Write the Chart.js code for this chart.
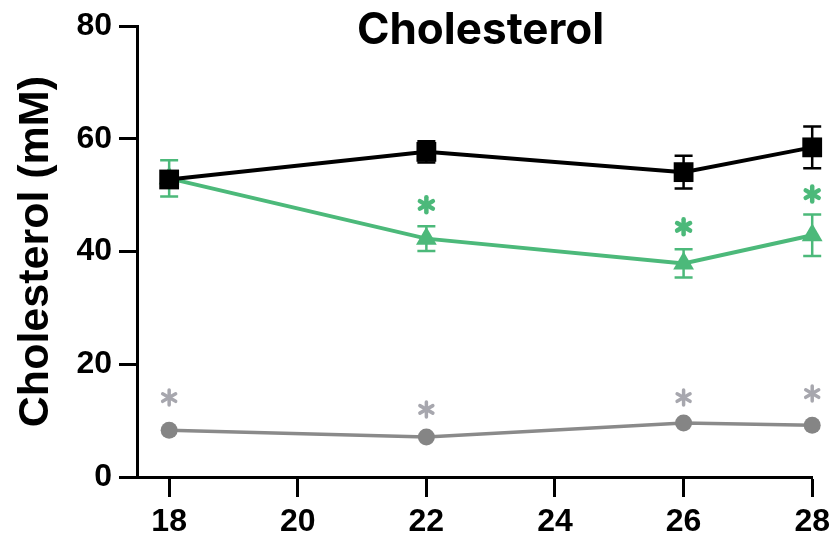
<!DOCTYPE html>
<html>
<head>
<meta charset="utf-8">
<script src="https://cdn.jsdelivr.net/npm/chart.js@4.4.0/dist/chart.umd.min.js"></script>
<style>
  html, body { margin: 0; padding: 0; background: #fff; }
  #chart { display: block; }
</style>
</head>
<body>
<canvas id="chart" width="836" height="540"></canvas>
<script>
// data
const chartTitle = "Cholesterol";
const yTitle = "Cholesterol (mM)";
const xTicks = [18, 20, 22, 24, 26, 28];
const days = [18, 22, 26, 28];

const blackValues = [52.8, 57.7, 54.1, 58.5];
const blackErr = [1.4, 1.9, 2.9, 3.7];

const greenValues = [53.0, 42.3, 37.9, 42.9];
const greenErr = [3.2, 2.2, 2.5, 3.7];
const greenStars = [null, 48.3, 44.4, 50.2];

const grayValues = [8.3, 7.1, 9.6, 9.2];
const grayErr = [0, 0, 0, 0];
const grayStars = [14.1, 12.0, 14.1, 14.8];

const black = "#000000";
const green = "#4cb97a";
const gray = "#8a8a8a";
const grayStar = "#a7a7ae";

const toPoints = (vals) => vals.map((v, i) => ({ x: days[i], y: v }));

// error bars, drawn under the markers
const errorBarPlugin = {
  id: "errorBars",
  beforeDatasetsDraw(chart) {
    const ctx = chart.ctx;
    const xScale = chart.scales.x;
    const yScale = chart.scales.y;
    chart.data.datasets.forEach((ds) => {
      if (!ds.errors) return;
      ctx.save();
      ctx.strokeStyle = ds.borderColor;
      ctx.lineWidth = 2.5;
      ds.data.forEach((p, i) => {
        const e = ds.errors[i];
        if (!e) return;
        const x = xScale.getPixelForValue(p.x);
        const top = yScale.getPixelForValue(p.y + e);
        const bot = yScale.getPixelForValue(p.y - e);
        ctx.beginPath();
        ctx.moveTo(x, top);
        ctx.lineTo(x, bot);
        ctx.moveTo(x - 9, top);
        ctx.lineTo(x + 9, top);
        ctx.moveTo(x - 9, bot);
        ctx.lineTo(x + 9, bot);
        ctx.stroke();
      });
      ctx.restore();
    });
  },
};

// significance asterisks + title
const extrasPlugin = {
  id: "extras",
  afterDraw(chart) {
    const ctx = chart.ctx;
    const xScale = chart.scales.x;
    const yScale = chart.scales.y;

    const drawStar = (x, y, color, w) => {
      ctx.save();
      ctx.strokeStyle = color;
      ctx.lineWidth = w;
      ctx.lineCap = "round";
      const r = 7.5;
      [90, 30, 150].forEach((deg) => {
        const a = (deg * Math.PI) / 180;
        ctx.beginPath();
        ctx.moveTo(x - r * Math.cos(a), y - r * Math.sin(a));
        ctx.lineTo(x + r * Math.cos(a), y + r * Math.sin(a));
        ctx.stroke();
      });
      ctx.restore();
    };

    greenStars.forEach((v, i) => {
      if (v == null) return;
      drawStar(xScale.getPixelForValue(days[i]), yScale.getPixelForValue(v), green, 4.5);
    });
    grayStars.forEach((v, i) => {
      if (v == null) return;
      drawStar(xScale.getPixelForValue(days[i]), yScale.getPixelForValue(v), grayStar, 3.5);
    });

    const area = chart.chartArea;
    ctx.save();
    ctx.fillStyle = "#000";
    ctx.font = "bold 44px Inter, 'Liberation Sans', sans-serif";
    ctx.textAlign = "center";
    ctx.textBaseline = "middle";
    ctx.fillText(chartTitle, (area.left + area.right) / 2 + 6, 31);
    ctx.restore();
  },
};

const tickFont = { family: "'Liberation Sans', Arial, sans-serif", size: 32, weight: "bold" };

new Chart(document.getElementById("chart"), {
  type: "line",
  data: {
    datasets: [
      {
        label: "black",
        data: toPoints(blackValues),
        errors: blackErr,
        borderColor: black,
        backgroundColor: black,
        borderWidth: 4,
        pointStyle: "rect",
        pointRadius: 14,
        pointBorderWidth: 0,
        clip: false,
      },
      {
        label: "green",
        data: toPoints(greenValues),
        errors: greenErr,
        borderColor: green,
        backgroundColor: green,
        borderWidth: 4,
        pointStyle: "triangle",
        pointRadius: 12,
        pointBorderWidth: 0,
        clip: false,
      },
      {
        label: "gray",
        data: toPoints(grayValues),
        errors: grayErr,
        borderColor: gray,
        backgroundColor: "#858585",
        borderWidth: 3.5,
        pointStyle: "circle",
        pointRadius: 8.5,
        pointBorderWidth: 0,
        clip: false,
      },
    ],
  },
  options: {
    responsive: false,
    animation: false,
    layout: { padding: { top: 25, right: 23, bottom: 0, left: 0 } },
    plugins: {
      legend: { display: false },
      tooltip: { enabled: false },
    },
    scales: {
      x: {
        type: "linear",
        min: 17.5,
        max: 28,
        afterBuildTicks: (scale) => {
          scale.ticks = xTicks.map((v) => ({ value: v }));
        },
        afterFit: (scale) => {
          scale.height = 63;
        },
        border: { display: true, color: "#000", width: 3 },
        grid: {
          drawOnChartArea: false,
          drawTicks: true,
          tickLength: 20,
          tickWidth: 3,
          tickColor: "#000",
        },
        ticks: { color: "#000", font: tickFont, padding: 6, maxRotation: 0 },
      },
      y: {
        min: 0,
        max: 80,
        afterFit: (scale) => {
          scale.width = 137;
        },
        border: { display: true, color: "#000", width: 3 },
        grid: {
          drawOnChartArea: false,
          drawTicks: true,
          tickLength: 18,
          tickWidth: 3,
          tickColor: "#000",
        },
        ticks: { color: "#000", font: tickFont, stepSize: 20, padding: 7 },
        title: {
          display: true,
          text: yTitle,
          color: "#000",
          font: { family: "'Liberation Sans', Arial, sans-serif", size: 43, weight: "bold" },
          padding: { top: 10, bottom: 0 },
        },
      },
    },
  },
  plugins: [errorBarPlugin, extrasPlugin],
});
</script>
</body>
</html>
